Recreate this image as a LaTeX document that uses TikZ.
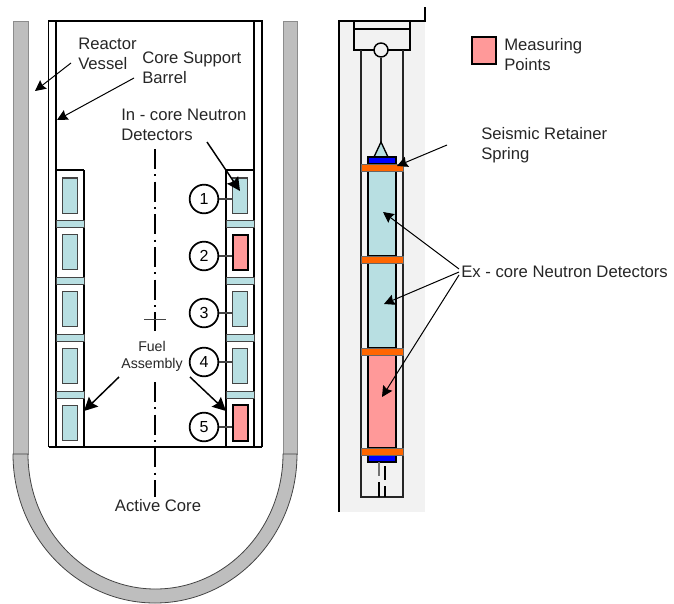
\documentclass[tikz,border=0pt]{standalone}
\usepackage{fontspec}
\setmainfont{Liberation Sans}
\usetikzlibrary{arrows.meta}
\definecolor{wall}{HTML}{BEBEBE}
\definecolor{ice}{HTML}{B8DFE2}
\definecolor{rose}{HTML}{FF9999}
\definecolor{bgg}{HTML}{F2F2F2}
\definecolor{orng}{HTML}{FF6600}
\definecolor{edge}{HTML}{444444}
\tikzset{
 x=0.75pt,y=-0.75pt,
 lbl/.style={font=\fontsize{12.5}{15}\selectfont,align=left,inner sep=0pt,anchor=west,text=black!85},
 lblsmall/.style={font=\fontsize{10.6}{13}\selectfont,align=center,inner sep=0pt,text=black!85},
 ptr/.style={draw=black,line width=0.75pt,-{Stealth[length=8pt,width=8pt,inset=1pt]}},
 ptrthick/.style={draw=black,line width=1.1pt,-{Stealth[length=10pt,width=10pt,inset=1.5pt]}},
 cellbox/.style={draw=edge,fill=ice,line width=1pt,minimum width=11.25pt,minimum height=26.5pt,inner sep=0pt},
 hotbox/.style={draw=black,fill=rose,line width=1.5pt,minimum width=11.25pt,minimum height=26.5pt,inner sep=0pt},
 numc/.style={circle,draw=black,line width=1.3pt,fill=white,minimum size=21.5pt,inner sep=0pt,font=\fontsize{12}{14}\selectfont},
 lead/.style={draw=edge,line width=0.8pt},
 band/.style={draw=edge,fill=ice,line width=0.6pt},
 heavy/.style={draw=black,line width=1.4pt},
 mid/.style={draw=black!85,line width=1.4pt},
 centre/.style={draw=black,line width=1.5pt,dash pattern=on 15pt off 4pt on 1.5pt off 4pt},
}
\begin{document}
\begin{tikzpicture}
\useasboundingbox (0,0) rectangle (674,603);
% vessel
\path[draw=black!45,fill=wall,line width=0.5pt] (13,21) rectangle (28,454);
\path[draw=black!45,fill=wall,line width=0.5pt] (283,21) rectangle (297,454);
\path[draw=edge,fill=wall,line width=0.6pt] (13,454) arc[start angle=180,end angle=0,x radius=142,y radius=149] -- (283,454) arc[start angle=0,end angle=180,x radius=127.5,y radius=135] -- cycle;
% barrel
\draw[heavy] (48.5,447) -- (48.5,21) -- (262,21) -- (262,447);
\draw[heavy] (56,21) -- (56,447);
\draw[heavy] (254,21) -- (254,447);
\draw[heavy] (84,170) -- (56,170);
\draw[heavy] (226,170) -- (254,170);
\draw[heavy] (84,170) -- (84,447);
\draw[heavy] (226,170) -- (226,447);
% spacer bands
\foreach \ya/\yb in {220.5/227.5,277.5/284,334/341,391/398}{
 \path[band] (56,\ya) rectangle (84,\yb);
 \path[band] (226,\ya) rectangle (254,\yb);
}
% left cells
\node[cellbox] (l1) at (70,195.5) {};
\node[cellbox] (l2) at (70,252) {};
\node[cellbox] (l3) at (70,309) {};
\node[cellbox] (l4) at (70,366) {};
\node[cellbox] (l5) at (70,423) {};
% right cells
\node[cellbox] (r1) at (240,195.5) {};
\node[hotbox] (r2) at (240,252.5) {};
\node[cellbox] (r3) at (240,309) {};
\node[cellbox] (r4) at (240,366) {};
\node[hotbox] (r5) at (240,423) {};
% bottom line
\draw[line width=1.6pt] (48.5,447) -- (262,447);
% centre line
\draw[centre] (155,149) -- (155,331);
\draw[centre] (155,382) -- (155,497);
\draw[draw=edge,line width=0.4pt] (144,319) -- (166,319);
% numbered circles
\node[numc] (c1) at (204,199) {1};
\node[numc] (c2) at (204,256) {2};
\node[numc] (c3) at (204,313) {3};
\node[numc] (c4) at (204,362) {4};
\node[numc] (c5) at (204,427) {5};
\foreach \n in {1,...,5}{\draw[lead] (c\n.east) -- (c\n.east -| r\n.west);}
% right hand figure
\fill[bgg] (339,21) rectangle (425,512);
\draw[line width=1.5pt] (339,512) -- (339,21) -- (425,21) -- (425,7);
\node[draw=black,line width=1.5pt,fill=bgg,minimum width=42pt,minimum height=21.5pt,inner sep=0pt] (head) at (382,35.5) {};
\draw[line width=1.5pt] (354,28.5) -- (410,28.5);
\draw[mid] (361,50) -- (361,497) -- (403,497) -- (403,50);
\node[circle,draw=black,line width=1.1pt,fill=bgg,minimum size=10.5pt,inner sep=0pt] (pin) at (381,50) {};
\coordinate (apex) at (381,142);
\draw[mid] (pin) -- (apex);
\draw[draw=black,line width=1pt,fill=ice] (apex) -- (374,157) -- (388,157) -- cycle;
\draw[line width=1.5pt,fill=blue] (368,156.5) rectangle (396,164);
\draw[line width=1.5pt,fill=blue] (368,454.5) rectangle (396,462);
\node[draw=black,line width=1.5pt,fill=ice,minimum width=21pt,minimum height=64pt,inner sep=0pt] (d1) at (382,213) {};
\node[draw=black,line width=1.5pt,fill=ice,minimum width=21pt,minimum height=64pt,inner sep=0pt] (d2) at (382,305) {};
\node[draw=black,line width=1.5pt,fill=rose,minimum width=21pt,minimum height=70pt,inner sep=0pt] (d3) at (382,401.5) {};
\foreach \ya/\yb in {164/171,256/263,348/355,448/455}{
 \path[fill=orng,draw=black!60,line width=0.4pt] (361,\ya) rectangle (403,\yb);
}
\draw[line width=1.3pt,draw=black!55] (379,462) -- (379,476);
\draw[line width=1.3pt] (379,482) -- (379,497);
\draw[line width=1.3pt] (385,466) -- (385,480);
\draw[line width=1.3pt] (385,486) -- (385,497);
% labels
\node[lbl] (rv) at (78,54) {Reactor\\Vessel};
\node[lbl] (csb) at (142,68) {Core Support\\Barrel};
\node[lbl] (icd) at (121,125) {In - core Neutron\\Detectors};
\node[lblsmall] (fa) at (152,356.5) {Fuel\\Assembly};
\node[lbl,anchor=center] (ac) at (158,506) {Active Core};
\node[lbl] (mp) at (504,55) {Measuring\\Points};
\node[draw=black,line width=1.2pt,fill=rose,minimum width=18pt,minimum height=20pt,inner sep=0pt] (key) at (484,50.5) {};
\node[lbl] (srs) at (481,145) {Seismic Retainer\\Spring};
\node[lbl] (exc) at (461,272) {Ex - core Neutron Detectors};
% pointers
\coordinate (rvs) at (71,63);   \coordinate (rvt) at (35,91);
\coordinate (csbs) at (134,78); \coordinate (csbt) at (57,120);
\coordinate (icds) at (207,142);\coordinate (icdt) at (240,191);
\coordinate (fas) at (119,377); \coordinate (fat) at (84,411);
\coordinate (fbs) at (190,377); \coordinate (fbt) at (226,411);
\coordinate (srss) at (447,145);\coordinate (srst) at (397,166);
\coordinate (ex1) at (459,269); \coordinate (ext1) at (383,212);
\coordinate (ex2) at (459,272); \coordinate (ext2) at (384,304);
\coordinate (ex3) at (459,275); \coordinate (ext3) at (382,397);
\draw[ptr] (rvs) -- (rvt);
\draw[ptr] (csbs) -- (csbt);
\draw[ptrthick] (icds) -- (icdt);
\draw[ptrthick] (fas) -- (fat);
\draw[ptrthick] (fbs) -- (fbt);
\draw[ptr] (srss) -- (srst);
\draw[ptr] (ex1) -- (ext1);
\draw[ptr] (ex2) -- (ext2);
\draw[ptr] (ex3) -- (ext3);
\end{tikzpicture}
\end{document}
